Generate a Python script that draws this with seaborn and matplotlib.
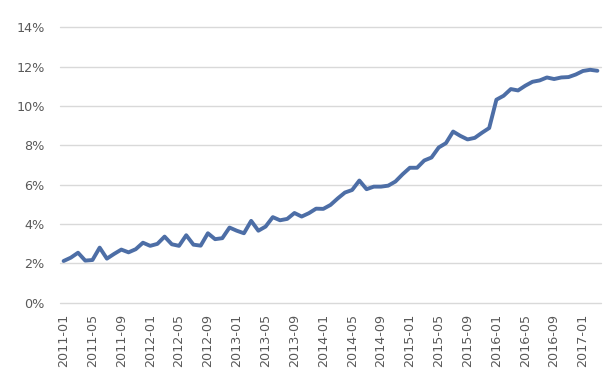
import matplotlib
matplotlib.use("Agg")
import matplotlib.pyplot as plt
import seaborn as sns
import pandas as pd
import numpy as np

months = pd.period_range("2011-01", "2017-03", freq="M").strftime("%Y-%m").tolist()
values = [2.12, 2.29, 2.54, 2.14, 2.17, 2.80, 2.24, 2.48, 2.70, 2.56,
          2.72, 3.05, 2.89, 2.99, 3.36, 2.97, 2.89, 3.43, 2.95, 2.90,
          3.53, 3.23, 3.28, 3.82, 3.66, 3.53, 4.16, 3.66, 3.87, 4.35,
          4.19, 4.26, 4.56, 4.38, 4.55, 4.78, 4.77, 4.97, 5.30, 5.60,
          5.73, 6.21, 5.77, 5.90, 5.90, 5.95, 6.16, 6.53, 6.86, 6.86,
          7.23, 7.38, 7.89, 8.11, 8.70, 8.48, 8.30, 8.38, 8.64, 8.88,
          10.32, 10.52, 10.86, 10.79, 11.03, 11.23, 11.30, 11.45, 11.37, 11.45,
          11.47, 11.60, 11.78, 11.84, 11.79]
y_ticks = [0, 2, 4, 6, 8, 10, 12, 14]

df = pd.DataFrame({"idx": np.arange(len(months)), "month": months, "value": values})

sns.set_style("white")
plt.rcParams["font.family"] = ["DejaVu Sans"]

fig = plt.figure(figsize=(6.13, 3.85), dpi=100)
ax = fig.add_axes([60/613, 1 - 302.7/385, (601-60)/613, (302.7-27.3)/385])

sns.lineplot(data=df, x="idx", y="value", ax=ax, color="#4d6ea6", linewidth=2.8)

ax.set_xlim(-0.5, len(months) - 0.5)
ax.set_ylim(0, 14)
ax.set_yticks(y_ticks)
ax.set_yticklabels([f"{t}%" for t in y_ticks])
tick_idx = list(range(0, len(months), 4))
ax.set_xticks(tick_idx)
ax.set_xticklabels([months[i] for i in tick_idx], rotation=90)
ax.grid(axis="y", color="#d9d9d9", linewidth=1)
ax.grid(axis="x", visible=False)
ax.set_axisbelow(True)
for gl in ax.yaxis.get_gridlines():
    gl.set_clip_on(False)
for s in ax.spines.values():
    s.set_visible(False)
ax.tick_params(axis="both", length=0, labelsize=9.2, colors="#595959")
ax.tick_params(axis="y", pad=11)
ax.tick_params(axis="x", pad=8)
ax.set_xlabel("")
ax.set_ylabel("")

fig.savefig("out.png", dpi=100)
